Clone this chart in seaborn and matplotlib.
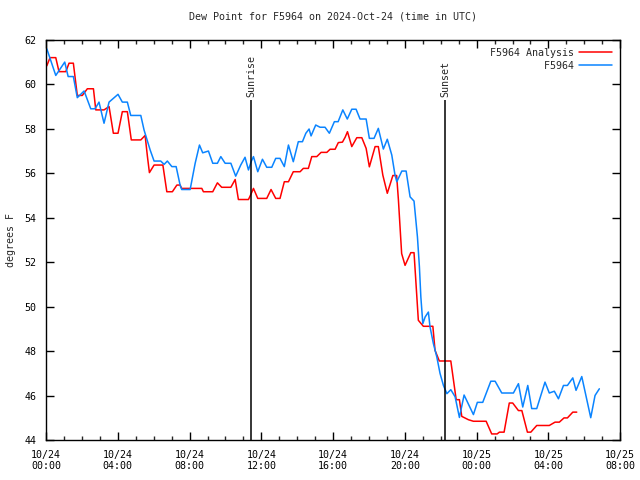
import pandas as pd
import matplotlib
matplotlib.use("Agg")
import matplotlib.pyplot as plt
import matplotlib.dates as mdates
import seaborn as sns

# hours after 2024-10-24 00:00 UTC
obs_hours = [0.04, 0.54, 0.79, 1.04, 1.23, 1.52, 1.74, 2.12, 2.49, 2.73, 2.95, 3.23, 3.51,
             4.01, 4.25, 4.53, 4.72, 5.28, 5.46, 5.80, 6.02, 6.39, 6.58, 6.76, 7.01, 7.25,
             7.47, 7.56, 8.03, 8.31, 8.55, 8.73, 9.05, 9.29, 9.55, 9.74, 9.98, 10.30, 10.57,
             10.85, 11.09, 11.28, 11.43, 11.56, 11.80, 12.06, 12.30, 12.58, 12.80, 13.04,
             13.28, 13.51, 13.78, 14.06, 14.29, 14.48, 14.66, 14.77, 15.03, 15.27, 15.55,
             15.79, 16.07, 16.28, 16.54, 16.79, 17.04, 17.28, 17.50, 17.84, 18.02, 18.28,
             18.52, 18.80, 19.02, 19.27, 19.45, 19.55, 19.83, 20.07, 20.29, 20.51, 20.70,
             20.81, 20.89, 21.00, 21.13, 21.31, 21.40, 21.59, 21.78, 21.96, 22.15, 22.34,
             22.56, 22.80, 23.04, 23.30, 23.82, 24.04, 24.34, 24.79, 25.03, 25.40, 26.05,
             26.33, 26.57, 26.85, 27.07, 27.35, 27.81, 28.05, 28.33, 28.56, 28.84, 29.06,
             29.36, 29.54, 29.86, 30.36, 30.60, 30.84]
obs_dewpt = [61.6, 60.4, 60.7, 61.0, 60.35, 60.35, 59.4, 59.7, 58.9, 58.9, 59.2, 58.25, 59.2,
             59.55, 59.2, 59.2, 58.6, 58.6, 57.95, 57.05, 56.55, 56.55, 56.4, 56.55, 56.3, 56.3,
             55.47, 55.27, 55.27, 56.45, 57.27, 56.92, 57.0, 56.45, 56.45, 56.75, 56.45, 56.45, 55.87,
             56.37, 56.72, 56.15, 56.52, 56.75, 56.07, 56.63, 56.27, 56.27, 56.67, 56.67,
             56.3, 57.27, 56.52, 57.42, 57.42, 57.8, 57.99, 57.68, 58.17, 58.07, 58.07,
             57.8, 58.32, 58.32, 58.85, 58.44, 58.88, 58.88, 58.44, 58.44, 57.57, 57.57,
             58.02, 57.09, 57.53, 56.82, 55.92, 55.62, 56.1, 56.1, 54.94, 54.75, 53.14,
             51.79, 50.44, 49.24, 49.54, 49.76, 49.1, 48.34, 47.74, 47.0, 46.46, 46.09,
             46.27, 45.95, 45.02, 46.03, 45.15, 45.7, 45.7, 46.65, 46.65, 46.12, 46.12,
             46.54, 45.49, 46.46, 45.42, 45.42, 46.61, 46.12, 46.2, 45.86, 46.46, 46.46,
             46.8, 46.24, 46.86, 45.01, 46.01, 46.31]

ana_hours = [0.04, 0.22, 0.54, 0.72, 1.10, 1.28, 1.52, 1.74, 2.02, 2.30, 2.64, 2.77, 3.23,
             3.51, 3.75, 4.01, 4.25, 4.53, 4.75, 5.28, 5.52, 5.65, 5.76, 6.02, 6.51, 6.73,
             7.04, 7.29, 7.47, 7.56, 8.68, 8.77, 9.29, 9.55, 9.79, 10.30, 10.54, 10.72,
             11.28, 11.37, 11.56, 11.80, 12.30, 12.54, 12.80, 13.04, 13.28, 13.51, 13.78,
             14.16, 14.34, 14.62, 14.81, 15.09, 15.33, 15.65, 15.83, 16.11, 16.29, 16.52,
             16.67, 16.80, 17.04, 17.32, 17.60, 17.84, 18.02, 18.34, 18.52, 18.77, 19.02,
             19.33, 19.54, 19.64, 19.73, 19.82, 20.01, 20.33, 20.51, 20.62, 20.75, 21.03,
             21.56, 21.68, 21.92, 22.56, 22.71, 22.86, 23.04, 23.17, 23.54, 23.82, 24.53,
             24.84, 25.14, 25.27, 25.53, 25.82, 26.01, 26.33, 26.52, 26.83, 27.02, 27.35,
             28.05, 28.37, 28.61, 28.87, 29.06, 29.36, 29.58]
ana_dewpt = [60.83, 61.2, 61.2, 60.57, 60.57, 60.95, 60.95, 59.5, 59.5, 59.8, 59.8, 58.85, 58.85,
             59.0, 57.8, 57.8, 58.77, 58.77, 57.5, 57.5, 57.7, 56.75, 56.03, 56.37, 56.37, 55.17,
             55.17, 55.47, 55.47, 55.32, 55.32, 55.17, 55.17, 55.57, 55.37, 55.37, 55.72, 54.82,
             54.82, 54.97, 55.32, 54.87, 54.87, 55.27, 54.87, 54.87, 55.62, 55.62, 56.07,
             56.07, 56.22, 56.22, 56.75, 56.75, 56.94, 56.94, 57.08, 57.08, 57.38, 57.4,
             57.62, 57.87, 57.2, 57.6, 57.6, 57.12, 56.29, 57.2, 57.2, 55.92, 55.1,
             55.9, 55.9, 54.8, 53.59, 52.39, 51.86, 52.43, 52.43, 51.04, 49.39, 49.12,
             49.12, 48.04, 47.56, 47.56, 46.69, 45.82, 45.82, 45.07, 44.92, 44.85, 44.85,
             44.28, 44.28, 44.36, 44.36, 45.67, 45.67, 45.33, 45.33, 44.36, 44.36, 44.66,
             44.66, 44.81, 44.81, 45.0, 45.0, 45.26, 45.26]

sun_events = ["Sunrise", "Sunset"]
sun_hours = [11.43, 22.24]

base = pd.Timestamp("2024-10-24 00:00")
obs = pd.DataFrame({"time": base + pd.to_timedelta(obs_hours, unit="h"), "dewpt": obs_dewpt})
ana = pd.DataFrame({"time": base + pd.to_timedelta(ana_hours, unit="h"), "dewpt": ana_dewpt})

sns.set_style("ticks")
plt.rcParams["font.family"] = ["DejaVu Sans Mono"]
fs = 7.2

fig = plt.figure(figsize=(6.4, 4.8), dpi=100)
ax = fig.add_axes([0.072, 0.083, 0.897, 0.834])

sns.lineplot(data=ana, x="time", y="dewpt", color="#ff0000", lw=1.1, label="F5964 Analysis", ax=ax)
sns.lineplot(data=obs, x="time", y="dewpt", color="#0a84ff", lw=1.1, label="         F5964", ax=ax)

for name, h in zip(sun_events, sun_hours):
    t = base + pd.Timedelta(hours=h)
    ax.vlines(t, 44, 59.3, color="black", lw=1.1)
    ax.text(t, 59.45, name, rotation=90, ha="center", va="bottom", fontsize=fs)

ax.set_xlim(base, base + pd.Timedelta(hours=32))
ax.set_ylim(44, 62)
ax.set_yticks(range(44, 63, 2))
ax.xaxis.set_major_locator(mdates.HourLocator(byhour=range(0, 24, 4)))
ax.xaxis.set_minor_locator(mdates.HourLocator())
ax.xaxis.set_major_formatter(mdates.DateFormatter("%m/%d\n%H:%M"))
ax.tick_params(which="major", direction="in", length=6, width=1, top=True, right=True,
               labelsize=fs, pad=7, colors="black")
ax.tick_params(which="minor", direction="in", length=3, width=1, top=True)
for s in ax.spines.values():
    s.set_visible(True)
    s.set_linewidth(1)
    s.set_color("black")

ax.set_xlabel("")
ax.set_ylabel("degrees F", fontsize=fs, labelpad=6)
ax.set_title("Dew Point for F5964 on 2024-Oct-24 (time in UTC)", fontsize=fs, pad=15)
ax.legend(loc="upper right", frameon=False, markerfirst=False, handlelength=3.3,
          handletextpad=0.5, labelspacing=0.3, borderaxespad=0.4, fontsize=fs)

fig.savefig("out.png", dpi=100)
